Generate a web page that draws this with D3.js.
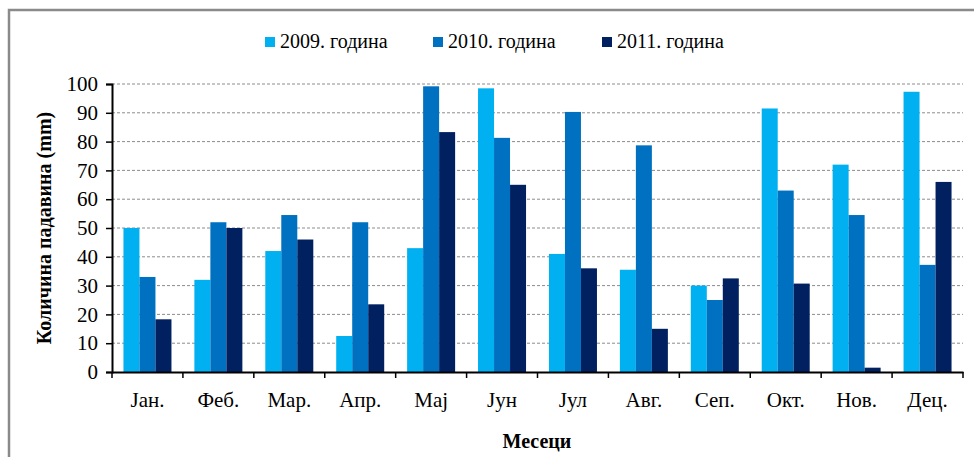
<!DOCTYPE html>
<html>
<head>
<meta charset="utf-8">
<script src="https://cdn.jsdelivr.net/npm/d3@7"></script>
<style>
  body { margin: 0; background: #fff; }
  svg { display: block; }
  svg text { font-family: "Times New Roman", "Liberation Serif", Times, "DejaVu Serif", serif; }
</style>
</head>
<body>
<div id="chart"></div>
<script>
const months = ["Јан.", "Феб.", "Мар.", "Апр.", "Мај", "Јун", "Јул", "Авг.", "Сеп.", "Окт.", "Нов.", "Дец."]
const seriesNames = ["2009. година", "2010. година", "2011. година"]
const values2009 = [50, 32, 42, 12.5, 43, 98.5, 41, 35.5, 30, 91.5, 72, 97.3]
const values2010 = [33, 52, 54.5, 52, 99.2, 81.3, 90.3, 78.7, 25, 63, 54.5, 37.2]
const values2011 = [18.3, 50, 46, 23.5, 83.3, 65, 36, 15, 32.5, 30.7, 1.5, 66]
const yTicks = [0, 10, 20, 30, 40, 50, 60, 70, 80, 90, 100]
const colors = ["#00b0f0", "#0070c0", "#002060"]

const width = 974, height = 457
const margin = { left: 112, right: 11, top: 84, bottom: 85 }
const fontSize = 21

const svg = d3.select("#chart").append("svg")
  .attr("width", width)
  .attr("height", height)

// outer frame
svg.append("rect")
  .attr("x", 9).attr("y", 10)
  .attr("width", width + 20).attr("height", height + 20)
  .attr("fill", "none")
  .attr("stroke", "#8a8a8a")
  .attr("stroke-width", 2.5)

const x0 = d3.scaleBand()
  .domain(months)
  .range([margin.left, width - margin.right])
  .paddingInner(0).paddingOuter(0)

const barW = 16
const x1 = d3.scaleBand()
  .domain(seriesNames)
  .range([0, barW * 3])

const y = d3.scaleLinear()
  .domain([0, 100])
  .range([height - margin.bottom, margin.top])

// gridlines
svg.append("g")
  .selectAll("line")
  .data(yTicks.filter(d => d > 0))
  .join("line")
  .attr("x1", margin.left).attr("x2", width - margin.right)
  .attr("y1", d => y(d)).attr("y2", d => y(d))
  .attr("stroke", "#8c8c8c")
  .attr("stroke-width", 1)
  .attr("stroke-dasharray", "3,2")

// bars
const table = months.map((m, i) => ({ month: m, vals: [values2009[i], values2010[i], values2011[i]] }))
const groupOffset = (x0.bandwidth() - barW * 3) / 2

svg.append("g")
  .selectAll("g")
  .data(table)
  .join("g")
  .attr("transform", d => `translate(${x0(d.month) + groupOffset},0)`)
  .selectAll("rect")
  .data(d => d.vals.map((v, j) => ({ key: seriesNames[j], v, j })))
  .join("rect")
  .attr("x", d => x1(d.key))
  .attr("width", x1.bandwidth())
  .attr("y", d => y(d.v))
  .attr("height", d => y(0) - y(d.v))
  .attr("fill", d => colors[d.j])

// y axis
const yAxis = svg.append("g")
  .attr("transform", `translate(${margin.left},0)`)
  .call(d3.axisLeft(y).tickValues(yTicks).tickSize(6).tickPadding(8))
yAxis.attr("font-family", null).attr("font-size", null)
yAxis.select(".domain").attr("stroke", "#000").attr("stroke-width", 2)
yAxis.selectAll(".tick line").attr("stroke", "#000").attr("stroke-width", 1.5)
yAxis.selectAll("text")
  .attr("font-size", fontSize)
  .attr("fill", "#000")

// x axis
const xAxis = svg.append("g")
  .attr("transform", `translate(0,${y(0)})`)
  .call(d3.axisBottom(x0).tickSize(0).tickPadding(20))
xAxis.attr("font-family", null).attr("font-size", null)
xAxis.select(".domain").attr("stroke", "#000").attr("stroke-width", 2)
xAxis.selectAll("text")
  .attr("font-size", fontSize)
  .attr("fill", "#000")

// category boundary ticks
svg.append("g")
  .selectAll("line")
  .data(months.map(m => x0(m)).concat([x0.range()[1]]))
  .join("line")
  .attr("x1", d => d).attr("x2", d => d)
  .attr("y1", y(0)).attr("y2", y(0) + 6)
  .attr("stroke", "#000")
  .attr("stroke-width", 1.5)

// axis titles
svg.append("text")
  .attr("transform", `translate(51,${(y(0) + y(100)) / 2}) rotate(-90)`)
  .attr("text-anchor", "middle")
  .attr("font-size", 20)
  .attr("font-weight", "bold")
  .text("Количина падавина (mm)")

svg.append("text")
  .attr("x", 537).attr("y", 448)
  .attr("text-anchor", "middle")
  .attr("font-size", 20)
  .attr("font-weight", "bold")
  .text("Месеци")

// legend
const legendX = [265, 433, 602]
const legend = svg.append("g")
  .selectAll("g")
  .data(seriesNames)
  .join("g")
  .attr("transform", (d, i) => `translate(${legendX[i]},0)`)
legend.append("rect")
  .attr("x", 0).attr("y", 37)
  .attr("width", 10).attr("height", 10)
  .attr("fill", (d, i) => colors[i])
legend.append("text")
  .attr("x", 15).attr("y", 48)
  .attr("font-size", 20)
  .text(d => d)
</script>
</body>
</html>
